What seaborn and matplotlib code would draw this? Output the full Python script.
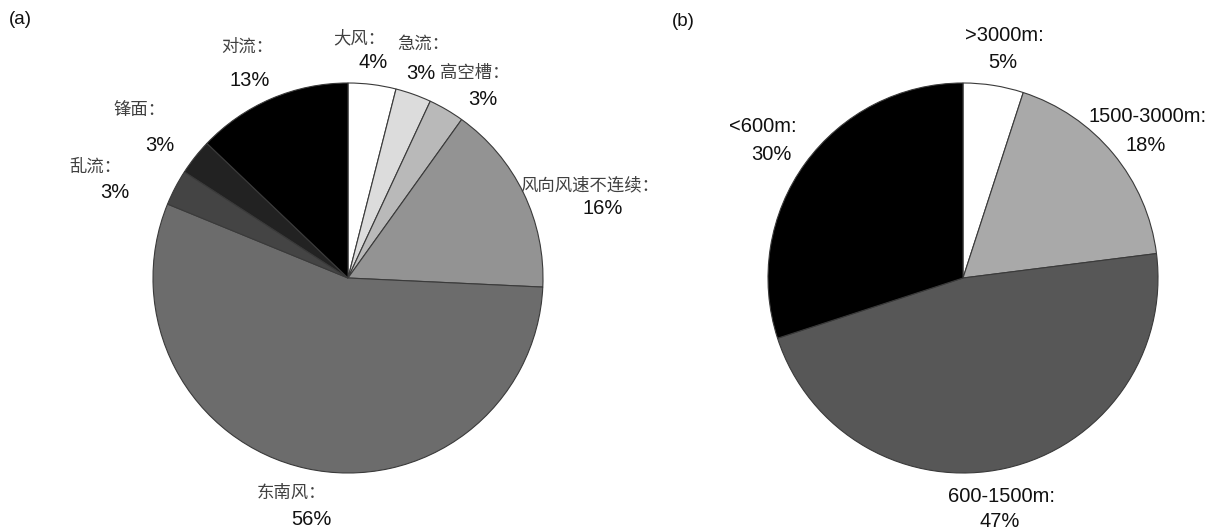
import matplotlib
matplotlib.use("Agg")
import matplotlib.pyplot as plt
import seaborn as sns

# (a) causes of low-level wind shear events
cause_names = ["大风", "急流", "高空槽", "风向风速不连续", "东南风", "乱流", "锋面", "对流"]
cause_pct = [4, 3, 3, 16, 56, 3, 3, 13]
cause_colors = ["#ffffff", "#dcdcdc", "#b9b9b9", "#939393", "#6c6c6c", "#444444", "#222222", "#000000"]

# (b) height ranges of the events
height_names = [">3000m", "1500-3000m", "600-1500m", "<600m"]
height_pct = [5, 18, 47, 30]
height_colors = ["#ffffff", "#a9a9a9", "#575757", "#000000"]

sns.set_theme(style="white")
plt.rcParams["font.family"] = ["Liberation Sans", "DejaVu Sans"]

W, H = 1208, 529
fig = plt.figure(figsize=(W / 100, H / 100), dpi=100)

R_PX = 195


def pie_axes(cx, cy):
    return fig.add_axes([(cx - R_PX) / W, (H - cy - R_PX) / H, 2 * R_PX / W, 2 * R_PX / H])


def draw_pie(ax, values, colors):
    ax.pie(values, colors=colors, startangle=90, counterclock=False, radius=1,
           wedgeprops=dict(edgecolor="#3a3a3a", linewidth=0.8))
    ax.set_xlim(-1, 1)
    ax.set_ylim(-1, 1)
    ax.set_aspect("equal")
    ax.axis("off")


cjk = ["Noto Sans CJK SC", "DejaVu Sans"]
NUM_FS = 14.5
CJK_FS = 12.5

# ---- panel (a)
ax_a = pie_axes(348, 278)
draw_pie(ax_a, cause_pct, cause_colors)
# label anchors (name, percent) in units of the pie radius
cause_pos = [
    ((0.056, 1.231), (0.128, 1.103)),
    ((0.385, 1.200), (0.374, 1.051)),
    ((0.651, 1.051), (0.692, 0.913)),
    ((1.241, 0.477), (1.308, 0.354)),
    ((-0.292, -1.103), (-0.190, -1.236)),
    ((-1.297, 0.569), (-1.195, 0.436)),
    ((-1.067, 0.862), (-0.964, 0.682)),
    ((-0.518, 1.185), (-0.503, 1.015)),
]
for name, v, (p_name, p_val) in zip(cause_names, cause_pct, cause_pos):
    ax_a.text(*p_name, name + "：", family=cjk, fontsize=CJK_FS, color="#404040",
              ha="center", va="center", clip_on=False)
    ax_a.text(*p_val, f"{v}%", fontsize=NUM_FS, color="#111111",
              ha="center", va="center", clip_on=False)

# ---- panel (b)
ax_b = pie_axes(963, 278)
draw_pie(ax_b, height_pct, height_colors)
height_pos = [
    ((0.210, 1.246), (0.205, 1.103)),
    ((0.944, 0.826), (0.938, 0.677)),
    ((0.195, -1.123), (0.190, -1.251)),
    ((-1.026, 0.779), (-0.985, 0.631)),
]
for name, v, (p_name, p_val) in zip(height_names, height_pct, height_pos):
    ax_b.text(*p_name, name + ":", fontsize=NUM_FS, color="#111111",
              ha="center", va="center", clip_on=False)
    ax_b.text(*p_val, f"{v}%", fontsize=NUM_FS, color="#111111",
              ha="center", va="center", clip_on=False)

fig.text(20 / W, 1 - 20 / H, "(a)", fontsize=13.5, ha="center", va="center", color="#111111")
fig.text(683 / W, 1 - 21 / H, "(b)", fontsize=13.5, ha="center", va="center", color="#111111")

fig.savefig("out.png", dpi=100, facecolor="white")
